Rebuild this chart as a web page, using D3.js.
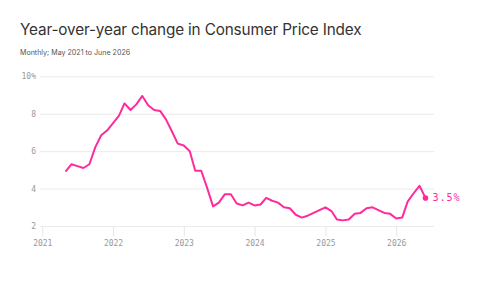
<!DOCTYPE html>
<html><head><meta charset="utf-8">
<script src="https://cdn.jsdelivr.net/npm/d3@7"></script>
<style>body{margin:0;background:#fff}svg{display:block}</style>
</head><body>
<script>
const startMonth = "2021-05";
const cpiValues = [4.9,5.3,5.2,5.1,5.3,6.2,6.85,7.1,7.5,7.9,8.55,8.2,8.5,8.95,8.45,8.2,8.15,7.7,7.05,6.4,6.3,6.0,4.95,4.95,4.05,3.05,3.25,3.7,3.7,3.2,3.1,3.25,3.1,3.15,3.5,3.35,3.25,3.0,2.95,2.6,2.45,2.55,2.7,2.85,3.0,2.8,2.35,2.3,2.35,2.65,2.7,2.95,3.0,2.85,2.7,2.65,2.4,2.45,3.3,3.75,4.15,3.5];
const yTicks = [2,4,6,8,10];
const xTickYears = [2021,2022,2023,2024,2025,2026];
const title = "Year-over-year change in Consumer Price Index";
const subtitle = "Monthly; May 2021 to June 2026";

const W=500,H=281;
const svg=d3.select("body").append("svg").attr("width",W).attr("height",H);
const [sy,sm]=startMonth.split("-").map(Number);
const data=cpiValues.map((v,i)=>({date:new Date(sy,sm-1+i,1),value:v}));

const x=d3.scaleTime().domain([new Date(2021,0,1),new Date(2026,6,15)]).range([42.3,434]);
const y=d3.scaleLinear().domain([2,10]).range([226,76.3]);

svg.append("text").attr("x",20).attr("y",35).text(title)
  .attr("font-family","Inter, 'Noto Sans', sans-serif").attr("font-size",15.3).attr("fill","#333").attr("letter-spacing",-0.15);
svg.append("text").attr("x",20).attr("y",55).text(subtitle)
  .attr("font-family","Inter, 'Noto Sans', sans-serif").attr("font-size",7.1).attr("fill","#555");

const mono="'DejaVu Sans Mono', 'Liberation Mono', monospace";
const yAxis=d3.axisLeft(y).tickValues(yTicks).tickSize(-(434-40)).tickFormat(d=>d===10?"10%":d);
const gy=svg.append("g").attr("transform","translate(40,0)").call(yAxis);
gy.select(".domain").remove();
gy.selectAll(".tick line").attr("stroke","#ebebeb").attr("stroke-width",1);
gy.selectAll(".tick text").attr("x",-4).attr("font-family",mono).attr("font-size",8).attr("fill","#999");

const xAxis=d3.axisBottom(x).tickValues(xTickYears.map(yr=>new Date(yr,0,1))).tickSize(10).tickPadding(4).tickFormat(d3.timeFormat("%Y"));
const gx=svg.append("g").attr("transform","translate(0,226.5)").call(xAxis);
gx.select(".domain").remove();
gx.selectAll(".tick line").attr("stroke","#e6e6e6");
gx.selectAll(".tick text").attr("font-family",mono).attr("font-size",8).attr("fill","#999");

const pink="#ff2a9d";
svg.append("path").datum(data)
  .attr("d",d3.line().x(d=>x(d.date)).y(d=>y(d.value)))
  .attr("fill","none").attr("stroke",pink).attr("stroke-width",2).attr("stroke-linejoin","round");
const last=data[data.length-1];
svg.append("circle").attr("cx",x(last.date)).attr("cy",y(last.value)).attr("r",2.8).attr("fill",pink);
svg.append("text").attr("x",x(last.date)+7).attr("y",y(last.value)+3.5).text(last.value.toFixed(1)+"%")
  .attr("font-family",mono).attr("font-size",10).attr("letter-spacing",1).attr("fill",pink);
</script>
</body></html>
